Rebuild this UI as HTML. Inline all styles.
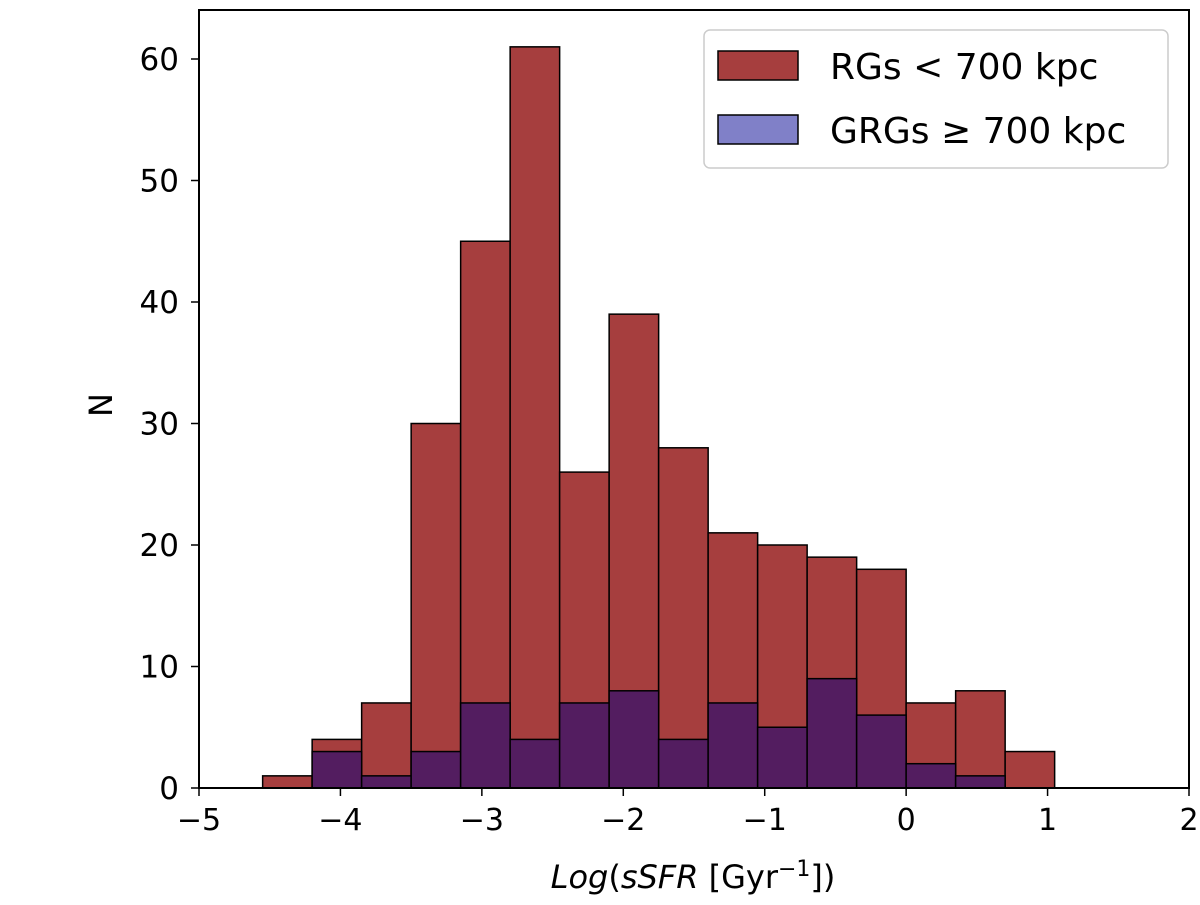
<!DOCTYPE html>
<html><head><meta charset="utf-8"><style>
body{margin:0;background:#fff;}
svg text{font-family:"DejaVu Sans","Liberation Sans",sans-serif;fill:#000;}
</style></head><body>
<svg id="chart" width="1200" height="900" xmlns="http://www.w3.org/2000/svg">
<g id="bars"></g>
<g id="axes"></g>
<g>
<rect x="704" y="30" width="464" height="138" rx="6" fill="#fff" stroke="#ccc" stroke-width="1.5"/>
<rect x="718" y="51" width="80" height="29" fill="#a63e3e" stroke="#000" stroke-width="1.5"/>
<text x="830" y="79" font-size="36">RGs  &lt; 700 kpc</text>
<rect x="718" y="115" width="80" height="29" fill="#8080c8" stroke="#000" stroke-width="1.5"/>
<text x="830" y="143" font-size="36">GRGs  ≥ 700 kpc</text>
</g>
<text transform="translate(112,405) rotate(-90)" font-size="32" text-anchor="middle">N</text>
<text x="693" y="888" font-size="32" text-anchor="middle"><tspan font-style="italic">Log</tspan>(<tspan font-style="italic">sSFR</tspan> [Gyr<tspan dy="-12" font-size="22">−1</tspan><tspan dy="12">])</tspan></text>
</svg>
<script>
const binStart=-4.55, binWidth=0.35;
const rgCounts=[1,4,7,30,45,61,26,39,28,21,20,19,18,7,8,3];
const grgCounts=[0,3,1,3,7,4,7,8,4,7,5,9,6,2,1,0];
const xTicks=[-5,-4,-3,-2,-1,0,1,2];
const xTickLabels=["−5","−4","−3","−2","−1","0","1","2"];
const yTicks=[0,10,20,30,40,50,60];
const NS="http://www.w3.org/2000/svg";
const L=199,R=1189,T=10,B=788;
const xMin=-5,xMax=2,yPerUnit=(788-59)/60;
const X=v=>L+(v-xMin)/(xMax-xMin)*(R-L);
const Y=v=>B-v*yPerUnit;
function mk(t,a,p){const e=document.createElementNS(NS,t);for(const k in a)e.setAttribute(k,a[k]);p.appendChild(e);return e;}
const bars=document.getElementById('bars'),axes=document.getElementById('axes');
function drawSeries(arr,fill,name){arr.forEach((c,i)=>{if(c<=0)return;const x0=X(binStart+i*binWidth),x1=X(binStart+(i+1)*binWidth);
const r=mk('rect',{x:x0,y:Y(c),width:x1-x0,height:Y(0)-Y(c),fill:fill,stroke:'#000','stroke-width':1.5},bars);

});}
drawSeries(rgCounts,'#a63e3e','rgs');
drawSeries(grgCounts,'#531d60','grgs');
const f=mk('rect',{x:L,y:T,width:R-L,height:B-T,fill:'none',stroke:'#000','stroke-width':2},axes);


xTicks.forEach((v,i)=>{mk('line',{x1:X(v),x2:X(v),y1:B,y2:B+8,stroke:'#000','stroke-width':1.5},axes);
const t=mk('text',{x:X(v),y:B+42,'font-size':30,'text-anchor':'middle'},axes);t.textContent=xTickLabels[i];

});
yTicks.forEach(v=>{mk('line',{x1:L-8,x2:L,y1:Y(v),y2:Y(v),stroke:'#000','stroke-width':1.5},axes);
const t=mk('text',{x:L-20,y:Y(v)+11,'font-size':31,'text-anchor':'end'},axes);t.textContent=v;

});
</script>
</body></html>
